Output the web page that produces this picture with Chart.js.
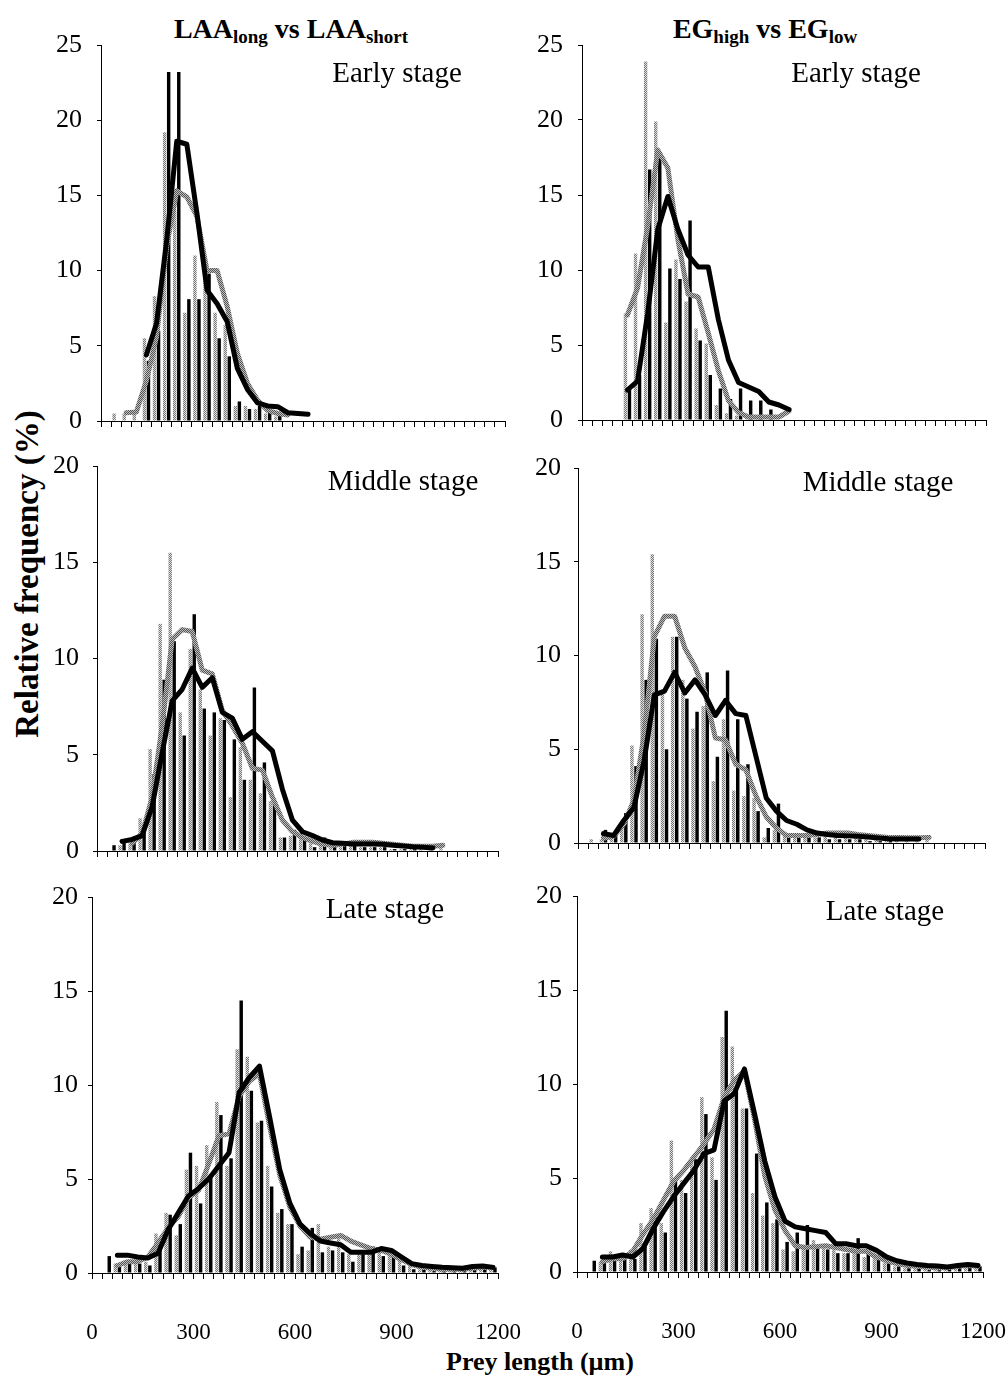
<!DOCTYPE html>
<html lang="en">
<head>
<meta charset="UTF-8">
<title>Prey length distributions</title>
<style>
    body {
        margin: 0;
        background: #fff;
        font-family: 'Liberation Serif', 'Times New Roman', serif;
        color: #000;
    }
    #page {
        position: relative;
        width: 1006px;
        height: 1376px;
        overflow: hidden;
    }
    .txt {
        position: absolute;
        white-space: nowrap;
        transform: translate(-50%, -50%);
    }
    .head { font-weight: bold; font-size: 28px; }
    .head sub { font-size: 19px; vertical-align: -5px; }
    .stage { font-size: 29px; }
</style>
</head>
<body>
<div id="page">
    <div class="txt head" style="left:291px; top:30px;">LAA<sub>long</sub> vs LAA<sub>short</sub></div>
    <div class="txt head" style="left:765px; top:30px;">EG<sub>high</sub> vs EG<sub>low</sub></div>
    <div class="txt" style="left:27px; top:574px; transform: translate(-50%, -50%) rotate(-90deg); font-weight:bold; font-size:33px;">Relative frequency (%)</div>
    <div class="txt" style="left:540px; top:1362px; font-weight:bold; font-size:26px;">Prey length (µm)</div>
</div>

<script src="https://cdn.jsdelivr.net/npm/chart.js"></script>
<script>
    // 30 µm size classes, 0 - 1200 µm
    const binCentres = [15, 45, 75, 105, 135, 165, 195, 225, 255, 285, 315, 345, 375, 405, 435, 465, 495, 525, 555, 585,
        615, 645, 675, 705, 735, 765, 795, 825, 855, 885, 915, 945, 975, 1005, 1035, 1065, 1095, 1125, 1155, 1185];
    const xTickLabels = [0, 300, 600, 900, 1200];

    // Early stage, LAA
    const tlGrayBars  = [null, 0.5, 0.5, 0.5, 5.5, 8.3, 19.2, 14, 7.2, 11, 9.5, 7.2, 6.4, 1.0, 1.0, 0.8, 0.5, 0.3];
    const tlBlackBars = [null, null, null, null, 4, 6, 23.2, 23.2, 8.1, 8.1, 9.8, 5.5, 4.3, 1.3, 0.8, 1.0, 0.7, 0.4];
    const tlGrayLine  = [null, null, 0.55, 0.6, 2.7, 5.6, 11.6, 15.3, 14.9, 13.6, 10, 10, 7.6, 4.5, 2.5, 1.4, 0.7, 0.5, 0.4];
    const tlBlackLine = [null, null, null, null, 4.4, 6.5, 12, 18.6, 18.4, 13.8, 8.7, 7.8, 6.6, 3.5, 2.1, 1.2, 1.0, 0.95, 0.55, 0.5, 0.45];

    // Early stage, EG
    const trGrayBars  = [null, null, null, null, 7.1, 11.1, 23.9, 19.9, 6.5, 10.7, 7.9, 6.1, 5.1, 1.0, 0.45, 0.3, 0.2, 0.2];
    const trBlackBars = [null, null, null, null, 2.1, 3, 16.7, 17.8, 10.1, 9.4, 13.3, 5.3, 3, 2.1, 1.4, 2.1, 1.3, 1.3, 0.7];
    const trGrayLine  = [null, null, null, null, 7, 8.8, 12.9, 18, 16.8, 12, 8.4, 8.2, 5.8, 3.3, 1.3, 0.5, 0.2, 0.2, 0.2, 0.2, 0.6];
    const trBlackLine = [null, null, null, null, 2.0, 2.6, 7.1, 12.7, 14.9, 12.7, 11, 10.2, 10.2, 6.7, 4, 2.5, 2.2, 1.9, 1.2, 1.0, 0.7];

    // Middle stage, LAA
    const mlGrayBars  = [null, null, 0.3, 0.4, 1.7, 5.3, 11.8, 15.5, 7.2, 10.5, 8.4, 6.0, 6.9, 2.8, 5.4, 3.7, 3.0, 2.6, 0.7, 0.8,
        0.8, 0.4, 0.3, 0.2, 0.2, 0.3, 0.2, 0.2, 0.2, 0.1, 0.1, 0.1, 0.1, 0.1, 0.2];
    const mlBlackBars = [null, 0.3, 0.6, 0.5, 1.0, 4.0, 8.9, 10.9, 6.0, 12.3, 7.4, 7.2, 6.8, 5.8, 3.7, 8.5, 4.6, 2.5, 0.7, 1.1,
        0.6, 0.2, 0.7, 0.3, 0.3, 0.3, 0.2, 0.2, 0.2, 0.1, 0.1, 0.1];
    const mlGrayLine  = [null, null, null, 0.4, 0.9, 2.8, 6.5, 11.0, 11.5, 11.4, 9.4, 9.2, 7.3, 6.5, 5.6, 4.3, 4.2, 2.8, 1.6, 1.0,
        0.7, 0.5, 0.35, 0.3, 0.35, 0.45, 0.45, 0.45, 0.4, 0.35, 0.3, 0.25, 0.25, 0.25, 0.3];
    const mlBlackLine = [null, null, 0.5, 0.6, 0.8, 2.3, 5.1, 7.8, 8.4, 9.5, 8.5, 9.0, 7.2, 6.9, 5.8, 6.2, 5.7, 5.2, 3.2, 1.6,
        1.0, 0.8, 0.57, 0.43, 0.4, 0.36, 0.36, 0.36, 0.35, 0.3, 0.26, 0.22, 0.2, 0.16];

    // Middle stage, EG
    const mrGrayBars  = [null, 0.2, 0.2, 0.3, 1.1, 5.2, 12.2, 15.4, 8.0, 11, 8.7, 6.1, 7.3, 3.3, 6.6, 2.8, 2.5, 2.4, 0.3, 0.7,
        0.5, 0.4, 0.3, 0.3, 0.4, 0.4, 0.3, 0.3, 0.2, 0.2, 0.2, 0.2, 0.2, 0.2, 0.2];
    const mrBlackBars = [null, null, 0.7, 0.5, 1.6, 4.1, 8.7, 10.9, 5.0, 11.0, 7.7, 7.0, 9.1, 4.6, 9.2, 6.6, 4.2, 1.7, 0.8, 2.1,
        0.5, 0.5, 0.3, 0.3, 0.2, 0.2, 0.2, 0.2, 0.1, 0.1, 0.1];
    const mrGrayLine  = [null, null, 0.25, 0.35, 1.0, 2.3, 5.8, 11.0, 12.1, 12.1, 10.4, 9.4, 8.0, 5.6, 5.5, 4.2, 3.9, 2.5, 1.4, 0.8,
        0.4, 0.4, 0.4, 0.45, 0.53, 0.53, 0.53, 0.45, 0.4, 0.35, 0.3, 0.3, 0.28, 0.28, 0.3];
    const mrBlackLine = [null, null, 0.5, 0.4, 1.2, 1.9, 4.4, 7.9, 8.1, 9.1, 8.0, 8.7, 7.9, 6.8, 7.6, 6.9, 6.8, 4.6, 2.4, 1.7,
        1.2, 1.0, 0.7, 0.53, 0.45, 0.4, 0.38, 0.36, 0.32, 0.27, 0.23, 0.21, 0.21, 0.21];

    // Late stage, LAA
    const blGrayBars  = [null, null, 0.5, 0.7, 0.6, 0.6, 2.1, 3.2, 2.0, 5.5, 5.7, 6.8, 9.1, 5.7, 11.9, 11.5, 8.0, 5.7, 3.2, 2.6,
        1.0, 1.2, 2.6, 1.4, 1.9, 1.0, 1.1, 1.0, 1.2, 1.0, 0.7, 0.4, 0.2, 0.2, 0.2, 0.1, 0.2, 0.2, 0.2, 0.2];
    const blBlackBars = [null, 0.9, 0.4, 0.5, 0.5, 0.4, 1.7, 3.1, 2.6, 6.4, 3.7, 5.1, 8.4, 6.1, 14.5, 9.7, 8.1, 4.6, 3.4, 2.6,
        1.4, 2.4, 1.1, 1.2, 1.1, 0.6, 1.0, 1.4, 0.9, 0.9, 0.4, 0.2, 0.2, 0.1, 0.1, 0.1, 0.2, 0.3, 0.3, 0.3];
    const blGrayLine  = [null, null, 0.4, 0.6, 0.6, 0.85, 1.6, 2.4, 3.0, 4.0, 4.4, 5.8, 7.3, 7.4, 9.4, 10.2, 10.6, 7.8, 5.2, 3.5,
        2.5, 1.9, 1.8, 1.9, 2.0, 1.7, 1.5, 1.3, 1.2, 1.0, 0.7, 0.45, 0.3, 0.25, 0.2, 0.2, 0.2, 0.25, 0.3, 0.3];
    const blBlackLine = [null, null, 0.95, 0.95, 0.85, 0.8, 1.05, 2.3, 3.2, 4.1, 4.5, 5.0, 5.7, 6.4, 9.6, 10.4, 11.0, 8.3, 5.5, 3.7,
        2.6, 2.1, 1.7, 1.6, 1.5, 1.1, 1.1, 1.1, 1.3, 1.2, 0.85, 0.5, 0.4, 0.35, 0.3, 0.28, 0.25, 0.35, 0.37, 0.3];

    // Late stage, EG
    const brGrayBars  = [null, null, 0.55, 1.1, 0.6, 1.2, 2.6, 3.4, 2.6, 7.0, 4.9, 6.1, 9.3, 6.1, 12.5, 12.0, 8.7, 4.2, 3.0, 2.6,
        1.2, 1.1, 1.3, 1.7, 1.4, 1.2, 1.0, 1.1, 0.8, 0.8, 0.5, 0.3, 0.2, 0.2, 0.2, 0.1, 0.2, 0.2, 0.2, 0.2];
    const brBlackBars = [null, 0.6, 0.8, 0.65, 0.8, 0.7, 1.35, 2.9, 2.1, 5.0, 4.2, 6.0, 8.4, 4.9, 13.9, 9.7, 8.7, 6.3, 3.7, 2.8,
        1.6, 2.1, 2.5, 1.3, 1.2, 1.0, 1.0, 1.8, 1.0, 0.8, 0.5, 0.3, 0.2, 0.2, 0.1, 0.1, 0.2, 0.3, 0.3, 0.3];
    const brGrayLine  = [null, null, 0.55, 0.7, 0.7, 1.1, 2.0, 2.8, 3.8, 4.8, 5.4, 6.1, 6.8, 7.6, 9.3, 10.2, 10.7, 8.1, 5.1, 3.3,
        2.2, 1.4, 1.3, 1.35, 1.4, 1.3, 1.2, 1.1, 1.1, 0.8, 0.6, 0.45, 0.35, 0.3, 0.25, 0.22, 0.22, 0.3, 0.35, 0.3];
    const brBlackLine = [null, null, 0.8, 0.8, 0.9, 0.8, 1.25, 2.3, 3.2, 4.0, 4.7, 5.4, 6.3, 6.5, 9.1, 9.5, 10.8, 8.4, 5.9, 4.0,
        2.7, 2.4, 2.3, 2.2, 2.1, 1.5, 1.5, 1.4, 1.4, 1.15, 0.8, 0.6, 0.48, 0.4, 0.35, 0.32, 0.27, 0.35, 0.4, 0.35];

    const FONT = "'Liberation Serif', 'Times New Roman', serif";

    // pixel boxes of each plot area: y axis x, x=1200 x, y at max, y at 0
    const panels = [
        { left: 101, right: 505, top: 45,  bottom: 421,  yMax: 25, ytPad: 15, labels: false, stage: 'Early stage',  sx: 397, sy: 72,
          bars: [tlGrayBars, tlBlackBars], lines: [tlGrayLine, tlBlackLine] },
        { left: 582, right: 986, top: 45,  bottom: 420,  yMax: 25, ytPad: 15, labels: false, stage: 'Early stage',  sx: 856, sy: 72,
          bars: [trGrayBars, trBlackBars], lines: [trGrayLine, trBlackLine] },
        { left: 97,  right: 498, top: 466, bottom: 851,  yMax: 20, ytPad: 14, labels: false, stage: 'Middle stage', sx: 403, sy: 480,
          bars: [mlGrayBars, mlBlackBars], lines: [mlGrayLine, mlBlackLine] },
        { left: 578, right: 985, top: 468, bottom: 843,  yMax: 20, ytPad: 13, labels: false, stage: 'Middle stage', sx: 878, sy: 481,
          bars: [mrGrayBars, mrBlackBars], lines: [mrGrayLine, mrBlackLine] },
        { left: 92,  right: 498, top: 897, bottom: 1273, yMax: 20, ytPad: 10, labels: true,  stage: 'Late stage',   sx: 385, sy: 908,
          bars: [blGrayBars, blBlackBars], lines: [blGrayLine, blBlackLine] },
        { left: 577, right: 983, top: 896, bottom: 1272, yMax: 20, ytPad: 11, labels: true,  stage: 'Late stage',   sx: 885, sy: 910,
          bars: [brGrayBars, brBlackBars], lines: [brGrayLine, brBlackLine] }
    ];

    // scanned halftone look for the grey marks
    function dither(ctx, dark, light) {
        const c = document.createElement('canvas');
        c.width = 2; c.height = 2;
        const g = c.getContext('2d');
        g.fillStyle = light;
        g.fillRect(0, 0, 2, 2);
        g.fillStyle = dark;
        g.fillRect(0, 0, 1, 1);
        g.fillRect(1, 1, 1, 1);
        return ctx.createPattern(c, 'repeat');
    }

    function points(values) {
        return binCentres.map((x, i) => ({ x: x, y: values[i] === undefined ? null : values[i] }));
    }

    const page = document.getElementById('page');

    panels.forEach(p => {
        const padL = 70, padR = 34, padT = 20;
        const xh = p.labels ? 80 : 12;
        const w = padL + (p.right - p.left) + padR;
        const h = padT + (p.bottom - p.top) + xh;

        const wrap = document.createElement('div');
        wrap.style.cssText = `position:absolute;left:${p.left - padL}px;top:${p.top - padT}px;width:${w}px;height:${h}px;`;
        const canvas = document.createElement('canvas');
        wrap.appendChild(canvas);
        page.appendChild(wrap);

        const label = document.createElement('div');
        label.className = 'txt stage';
        label.style.left = p.sx + 'px';
        label.style.top = p.sy + 'px';
        label.textContent = p.stage;
        page.appendChild(label);

        const ctx = canvas.getContext('2d');
        const greyBar = dither(ctx, '#777777', '#dedede');
        const greyLine = dither(ctx, '#555555', '#bdbdbd');

        new Chart(canvas, {
            type: 'bar',
            data: {
                datasets: [
                    { type: 'line', data: points(p.lines[1]), borderColor: '#000', borderWidth: 5, pointRadius: 0,
                      borderJoinStyle: 'round', borderCapStyle: 'round', fill: false, order: 0 },
                    { type: 'line', data: points(p.lines[0]), borderColor: greyLine, borderWidth: 5, pointRadius: 0,
                      borderJoinStyle: 'round', borderCapStyle: 'round', fill: false, order: 1 },
                    { data: points(p.bars[0]), backgroundColor: greyBar, borderWidth: 0, order: 2,
                      barPercentage: 0.85, categoryPercentage: 0.8 },
                    { data: points(p.bars[1]), backgroundColor: '#000', borderWidth: 0, order: 2,
                      barPercentage: 0.85, categoryPercentage: 0.8 }
                ]
            },
            options: {
                responsive: true,
                maintainAspectRatio: false,
                animation: false,
                events: [],
                layout: { padding: { left: 0, right: padR, top: padT, bottom: 0 } },
                plugins: { legend: { display: false }, tooltip: { enabled: false } },
                scales: {
                    x: {
                        type: 'linear',
                        min: 0,
                        max: 1200,
                        offset: false,
                        grid: { offset: false, drawOnChartArea: false, drawTicks: true, tickLength: 6, color: '#000', lineWidth: 1 },
                        border: { display: true, color: '#000', width: 1 },
                        ticks: {
                            stepSize: 30,
                            autoSkip: false,
                            maxRotation: 0,
                            display: p.labels,
                            padding: 40,
                            color: '#000',
                            font: { family: FONT, size: 23 },
                            callback: v => xTickLabels.includes(v) ? String(v) : ''
                        },
                        afterFit: s => {
                            s.height = xh;
                            s.paddingLeft = 0;
                            s.paddingRight = 0;
                        }
                    },
                    y: {
                        min: 0,
                        max: p.yMax,
                        grid: { drawOnChartArea: false, drawTicks: true, tickLength: 4, color: '#000', lineWidth: 1 },
                        border: { display: true, color: '#000', width: 1 },
                        ticks: { stepSize: 5, padding: p.ytPad, color: '#000', font: { family: FONT, size: 26 } },
                        afterFit: s => {
                            s.width = padL;
                            s.paddingTop = 0;
                            s.paddingBottom = 0;
                        }
                    }
                }
            }
        });
    });
</script>
</body>
</html>
